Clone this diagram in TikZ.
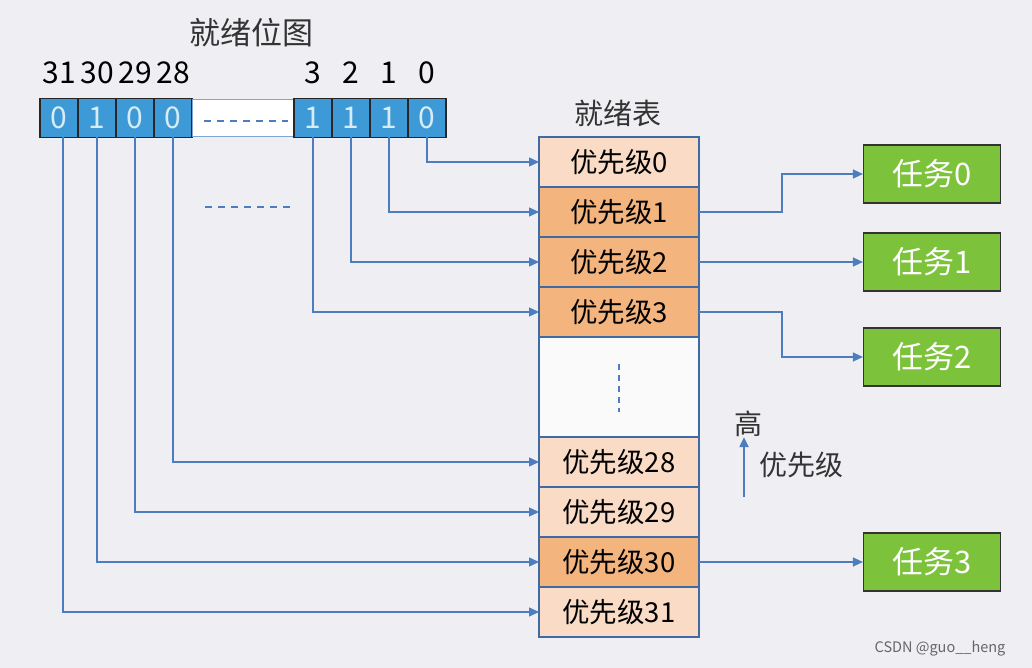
\documentclass[tikz,border=0pt]{standalone}
\usepackage{fontspec}
\setmainfont{Noto Sans CJK SC}
\usetikzlibrary{positioning,arrows.meta,calc}
\definecolor{bgray}{HTML}{EFEFF3}
\definecolor{bitblue}{HTML}{3D9AD6}
\definecolor{bitdigit}{HTML}{D6ECF8}
\definecolor{peach}{HTML}{FADCC6}
\definecolor{orange}{HTML}{F4B47E}
\definecolor{taskgreen}{HTML}{7DC23B}
\definecolor{linkblue}{HTML}{4C7DBF}
\definecolor{tableline}{HTML}{3F6AA3}
\tikzset{
	bit/.style={draw=black!85,line width=1.4pt,fill=bitblue,text=bitdigit,
		minimum width=38pt,minimum height=39pt,inner sep=0pt,outer sep=0pt,
		font=\fontsize{30}{30}\selectfont},
	gapbox/.style={draw=linkblue!70,line width=0.8pt,fill=white,
		minimum width=102pt,minimum height=37pt,inner sep=0pt,outer sep=0pt},
	idx/.style={inner sep=0pt,font=\fontsize{30}{30}\selectfont},
	heading/.style={inner sep=0pt,text=black!80,font=\fontsize{29}{29}\selectfont},
	prio/.style={draw=tableline,line width=1.4pt,fill=peach,
		minimum width=160pt,minimum height=50pt,inner sep=0pt,outer sep=0pt,
		font=\fontsize{27.5}{27.5}\selectfont},
	ready/.style={prio,fill=orange},
	blankrow/.style={prio,fill=white!70!bgray,minimum height=100pt},
	task/.style={draw=black!80,line width=1.2pt,fill=taskgreen,text=white,
		minimum width=137pt,minimum height=58pt,inner sep=0pt,
		font=\fontsize{31}{31}\selectfont},
	link/.style={draw=linkblue,line width=1.3pt,-{Triangle[length=10pt,width=9pt]}},
	dots/.style={draw=linkblue,line width=2pt,dash pattern=on 7pt off 6pt}
}

\begin{document}
\begin{tikzpicture}[x=1pt,y=-1pt]
\useasboundingbox[fill=bgray] (0,0) rectangle (1032,668);

% bitmap
\node[heading,font=\fontsize{31}{31}\selectfont] (maptitle) at (251,33) {就绪位图};
\node[bit] (b31) at (59,118) {0};
\node[bit,right=0pt of b31] (b30) {1};
\node[bit,right=0pt of b30] (b29) {0};
\node[bit,right=0pt of b29] (b28) {0};
\node[gapbox,right=0pt of b28] (gap) {};
\node[bit,right=0pt of gap] (b3) {1};
\node[bit,right=0pt of b3] (b2) {1};
\node[bit,right=0pt of b2] (b1) {1};
\node[bit,right=0pt of b1] (b0) {0};
\draw[dots] ($(gap.west)+(12,3)$) -- ($(gap.east)+(-6,3)$);

\coordinate (idxrow) at (0,73);
\node[idx] at (b31 |- idxrow) {31};
\node[idx] at (b30 |- idxrow) {30};
\node[idx] at (b29 |- idxrow) {29};
\node[idx] at (b28 |- idxrow) {28};
\node[idx] at (b3 |- idxrow) {3};
\node[idx] at (b2 |- idxrow) {2};
\node[idx] at (b1 |- idxrow) {1};
\node[idx] at (b0 |- idxrow) {0};

% ready table
\node[heading] (tabtitle) at (618,113) {就绪表};
\node[prio] (r0) at (619,162) {优先级0};
\node[ready,below=0pt of r0] (r1) {优先级1};
\node[ready,below=0pt of r1] (r2) {优先级2};
\node[ready,below=0pt of r2] (r3) {优先级3};
\node[blankrow,below=0pt of r3] (rgap) {};
\node[prio,below=0pt of rgap] (r28) {优先级28};
\node[prio,below=0pt of r28] (r29) {优先级29};
\node[ready,below=0pt of r29] (r30) {优先级30};
\node[prio,below=0pt of r30] (r31) {优先级31};
\draw[dots,dash pattern=on 6pt off 5pt] ($(rgap.north)+(0,27)$) -- ($(rgap.south)+(0,-25)$);

% bits to table
\draw[dots] (205,207) -- (290,207);
\path[link] (b0.south) |- (r0.west);
\path[link] (b1.south) |- (r1.west);
\path[link] (b2.south) |- (r2.west);
\path[link] (b3.south) |- (r3.west);
\path[link] (b28.south) |- (r28.west);
\path[link] (b29.south) |- (r29.west);
\path[link] (b30.south) |- (r30.west);
\path[link] ($(b31.south)+(4,0)$) |- (r31.west);

% tasks
\node[task] (t0) at (932,174) {任务0};
\node[task] (t1) at (932,262) {任务1};
\node[task] (t2) at (932,357) {任务2};
\node[task] (t3) at (932,562) {任务3};
\path[link] (r1.east) -- ++(83,0) |- (t0.west);
\path[link] (r2.east) -- (t1.west);
\path[link] (r3.east) -- ++(83,0) |- (t2.west);
\path[link] (r30.east) -- (t3.west);

% priority direction
\node[heading,font=\fontsize{28}{28}\selectfont] (gao) at (748,424) {高};
\node[heading,font=\fontsize{28}{28}\selectfont] (prtext) at (801,465) {优先级};
\coordinate (pbase) at (744,497);
\draw[link,line width=2pt] (pbase) -- (pbase |- gao.south);

\node[inner sep=0pt,text=black!60,font=\fontsize{14.5}{14.5}\selectfont] (mark) at (940,649) {CSDN @guo\_\_heng};
\end{tikzpicture}
\end{document}
